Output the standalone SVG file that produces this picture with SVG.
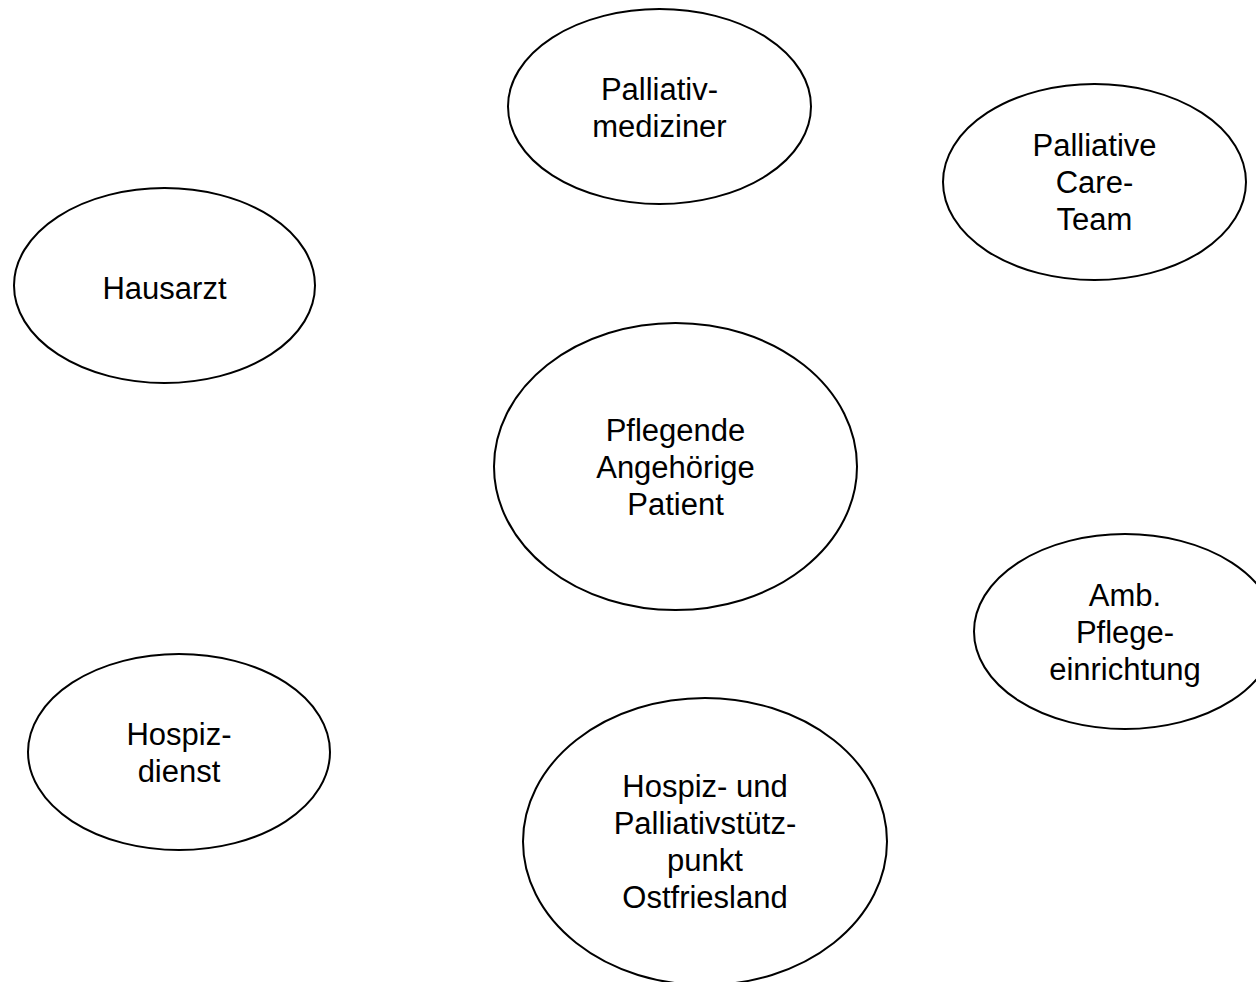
<svg xmlns="http://www.w3.org/2000/svg" width="1256" height="982" viewBox="0 0 1256 982">
<style>
.n ellipse{fill:#fff;stroke:#000;stroke-width:2}
.n text{font-family:"Liberation Sans",Arial,sans-serif;font-size:31px;fill:#000;text-anchor:middle}
</style>
<rect width="1256" height="982" fill="#fff"/>
<g id="connectors"/>
<g id="palliativmediziner" class="n">
<ellipse cx="659.5" cy="106.5" rx="151.5" ry="97.5"/>
<text x="659.5" y="100">Palliativ-</text>
<text x="659.5" y="137">mediziner</text>
</g>
<g id="palliative-care-team" class="n">
<ellipse cx="1094.5" cy="182" rx="151.5" ry="98"/>
<text x="1094.5" y="156">Palliative</text>
<text x="1094.5" y="193">Care-</text>
<text x="1094.5" y="230">Team</text>
</g>
<g id="hausarzt" class="n">
<ellipse cx="164.5" cy="285.5" rx="150.5" ry="97.5"/>
<text x="164.5" y="299">Hausarzt</text>
</g>
<g id="angehoerige" class="n">
<ellipse cx="675.5" cy="466.5" rx="181.5" ry="143.5"/>
<text x="675.5" y="441">Pflegende</text>
<text x="675.5" y="478">Angehörige</text>
<text x="675.5" y="515">Patient</text>
</g>
<g id="amb-pflege" class="n">
<ellipse cx="1125" cy="631.5" rx="151" ry="97.5"/>
<text x="1125" y="606">Amb.</text>
<text x="1125" y="643">Pflege-</text>
<text x="1125" y="680">einrichtung</text>
</g>
<g id="hospizdienst" class="n">
<ellipse cx="179" cy="752" rx="151" ry="98"/>
<text x="179" y="745">Hospiz-</text>
<text x="179" y="782">dienst</text>
</g>
<g id="stuetzpunkt" class="n">
<ellipse cx="705" cy="841.5" rx="182" ry="143.5"/>
<text x="705" y="797">Hospiz- und</text>
<text x="705" y="834">Palliativstütz-</text>
<text x="705" y="871">punkt</text>
<text x="705" y="908">Ostfriesland</text>
</g>
</svg>
